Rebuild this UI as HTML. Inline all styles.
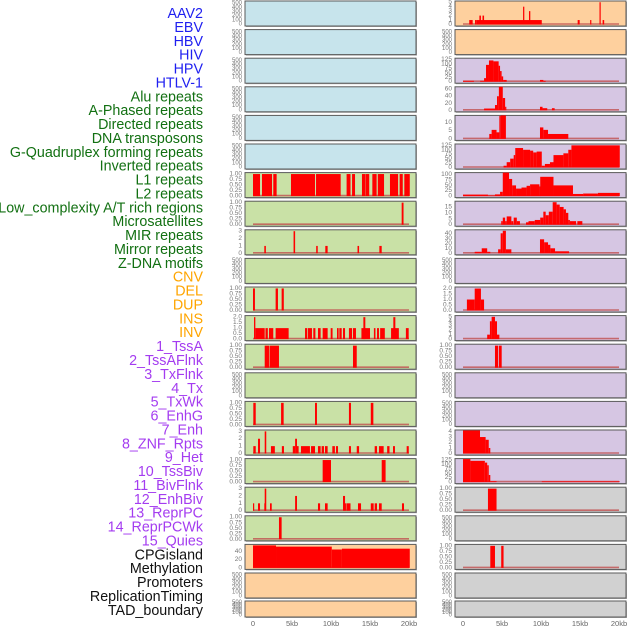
<!DOCTYPE html>
<html><head><meta charset="utf-8">
<style>
html,body{margin:0;padding:0;background:#fff;}
svg{display:block;}
text{font-family:"Liberation Sans",sans-serif;}
</style></head>
<body>
<svg id="chart" width="630" height="630" viewBox="0 0 630 630" xmlns="http://www.w3.org/2000/svg">
<g id="labels"></g>
<g id="panels"></g>
<g id="xaxis"></g>
</svg>
<script>
// ---- data ----
const trackNames = ["AAV2","EBV","HBV","HIV","HPV","HTLV-1","Alu repeats","A-Phased repeats","Directed repeats","DNA transposons","G-Quadruplex forming repeats","Inverted repeats","L1 repeats","L2 repeats","Low_complexity A/T rich regions","Microsatellites","MIR repeats","Mirror repeats","Z-DNA motifs","CNV","DEL","DUP","INS","INV","1_TssA","2_TssAFlnk","3_TxFlnk","4_Tx","5_TxWk","6_EnhG","7_Enh","8_ZNF_Rpts","9_Het","10_TssBiv","11_BivFlnk","12_EnhBiv","13_ReprPC","14_ReprPCWk","15_Quies","CPGisland","Methylation","Promoters","ReplicationTiming","TAD_boundary"];
const labelGroups = ["virus","virus","virus","virus","virus","virus","repeat","repeat","repeat","repeat","repeat","repeat","repeat","repeat","repeat","repeat","repeat","repeat","repeat","sv","sv","sv","sv","sv","state","state","state","state","state","state","state","state","state","state","state","state","state","state","state","other","other","other","other","other"];
const xTickValues = [0,5,10,15,20];
const xTickLabels = ["0","5kb","10kb","15kb","20kb"];
const ticksEmpty = [0,100,200,300,400,500];
const ticksFrac = [0,0.25,0.5,0.75,1];
const ticks0to3 = [0,1,2,3];
const ticks0to2 = [0,0.5,1,1.5,2];
const ticks0to5 = [0,1,2,3,4,5];
const ticks0to4 = [0,1,2,3,4];
const ticks125 = [0,25,50,75,100,125];
const ticks100 = [0,25,50,75,100];
const ticks60 = [0,20,40,60];
const ticks10 = [0,5,10];
const ticks15 = [0,5,10,15];
const ticks40 = [0,10,20,30,40];
const ticksCNV = [0,20,40];
// segments: [startKb, endKb, value]
const segAlu = [[0,0.9,1],[1.15,2.44,1],[2.6,3.03,1],[4.87,7.95,1],[8.08,11.24,1],[12.0,12.5,1],[12.7,13.08,1],[13.97,14.4,1],[14.44,14.9,1],[15.3,15.85,1],[16.0,16.8,1],[17.56,18.6,1],[18.8,19.2,1],[19.4,20.1,1]];
const segAPhased = [[19.06,19.3,1]];
const segDirected = [[1.45,1.65,1],[5.2,5.4,3],[8.1,8.3,1],[9.27,9.57,1],[13.4,13.6,1],[16.2,16.5,1]];
const segGQuad = [[0,0.25,1],[2.9,3.2,1],[3.67,3.95,1]];
const segInverted = [[0.13,0.3,2],[0.3,1.5,1],[1.6,1.9,1],[2.05,2.6,1],[2.9,4.57,1],[6.67,6.96,1],[7.05,7.56,1],[7.73,8.0,1],[8.33,8.67,1],[8.93,9.57,1],[9.96,10.2,1],[10.77,10.98,1],[11.07,11.37,1],[11.54,11.8,1],[12.3,12.7,1],[12.82,13.2,1],[13.9,15.0,1],[14.15,14.4,2],[15.5,15.7,1],[15.9,16.15,1],[16.3,16.9,1],[17.7,18.7,1],[17.99,18.25,2],[19.6,19.96,1]];
const segL1 = [[1.5,2.05,1],[2.12,3.33,1],[12.82,13.3,1]];
const segLowComp = [[0.04,0.35,1],[3.6,3.93,1],[7.95,8.2,1],[12.3,12.56,1],[15.1,15.43,1]];
const segMicro = [[0.04,0.35,1],[0.64,0.9,2],[1.5,1.7,3],[2.3,2.8,1],[3.7,3.97,1],[5.1,5.4,1],[5.4,5.64,2],[5.64,5.85,1],[6.15,7.3,1],[7.44,7.95,1],[8.33,8.67,1],[8.8,9.1,1],[9.23,9.57,1],[10.17,10.5,1],[10.64,10.9,1],[12.3,12.56,1],[13.3,13.6,1],[15.6,15.9,1],[16.15,16.75,1],[17.2,17.5,1],[17.95,18.2,1],[19.7,19.97,1]];
const segMIR = [[8.93,10.0,1],[16.5,17.0,1]];
const segMirror = [[0,0.12,1],[0.64,0.9,1],[1.45,1.5,1],[1.5,1.7,3],[2.18,2.4,1],[5.4,5.64,2],[8.33,8.6,1],[9.23,9.57,1],[11.54,11.8,2],[11.8,12.0,1],[12.05,12.5,1],[13.46,13.85,1],[15.1,15.47,1],[15.6,15.9,1],[16.15,16.5,1],[19.1,19.36,1]];
const segZDNA = [[3.33,3.67,1]];
const segCNV = [[0,2.95,55],[2.95,10.1,52],[10.1,11.4,45],[11.4,20.1,47]];
const segINS = [[0.8,1.24,1],[1.54,1.75,1],[1.75,10.1,1],[2.1,2.3,2],[2.5,2.7,2],[7.7,7.86,4],[8.46,8.63,3],[14.7,14.96,1],[16.3,16.45,1],[17.5,17.65,5],[17.9,18.1,1]];
const segTssA = [[0,1.4,5],[2.2,2.7,5],[2.7,2.95,20],[2.95,3.33,95],[3.33,3.9,120],[3.9,4.57,115],[4.57,4.75,90],[4.75,4.95,60],[4.95,5.15,30],[5.15,5.6,10],[9.87,10.3,10],[10.3,10.6,5]];
const segTssAFlnk = [[2.7,4.1,5],[4.1,4.36,15],[4.36,4.6,40],[4.6,5.1,70],[5.1,5.4,35],[5.4,5.5,10],[9.87,10.2,10],[10.2,10.8,6],[11.4,11.75,6]];
const segTxFlnk = [[3.37,3.67,3],[3.67,4.3,5.5],[4.3,4.66,4],[4.66,4.83,14],[4.83,5.5,15],[9.87,10.3,7],[10.3,10.9,5.5],[10.9,13.5,3]];
const segTx = [[5.2,5.6,10],[5.6,6.05,30],[6.05,6.5,50],[6.5,6.7,70],[6.7,7.7,110],[7.7,8.6,100],[8.6,9.0,95],[9.0,9.44,85],[9.44,10.1,90],[10.1,10.5,10],[10.5,11.15,20],[11.15,11.6,30],[11.6,12.87,70],[12.87,13.5,80],[13.5,13.9,100],[13.9,20.1,125]];
const segTxWk = [[0,3.2,7],[3.2,4.1,3],[4.1,4.75,8],[4.75,5.1,20],[5.1,5.9,115],[5.9,6.3,80],[6.3,6.8,50],[6.8,7.5,35],[7.5,8.15,40],[8.15,8.6,48],[8.6,9.8,55],[9.8,9.9,45],[9.9,11.6,90],[11.6,14.1,50],[14.1,15.4,10],[15.4,17.3,12],[17.3,20.1,15]];
const segEnhG = [[4.9,5.1,3],[5.1,5.4,6],[5.4,5.6,3],[5.6,6.2,7],[6.2,6.45,3],[6.5,6.9,6],[6.9,7.3,3],[8.08,8.4,2],[8.4,9.2,3],[9.2,9.9,4],[9.9,10.3,6],[10.3,10.6,11],[10.6,11.0,8],[11.0,11.5,11],[11.5,12.0,19],[12.0,12.4,17],[12.4,12.9,15],[12.9,13.2,13],[13.2,13.5,10],[13.5,13.7,4],[13.7,14.5,3],[14.66,15.3,3]];
const segEnh = [[1.5,2.4,3],[2.4,3.1,10],[3.1,3.5,3],[4.5,4.83,8],[4.83,5.1,40],[5.1,5.5,45],[5.5,6.2,8],[9.87,10.4,28],[10.4,10.9,22],[10.9,11.2,17],[11.2,11.8,10],[11.8,13.6,4]];
const segHet = [[0.5,1.5,1],[1.5,2.3,2],[2.3,2.7,1]];
const segTssBiv = [[3.1,3.45,1],[3.45,3.67,4],[3.67,4.1,5],[4.1,4.36,4],[4.36,4.66,1]];
const segBivFlnk = [[4.1,4.5,1],[4.6,4.96,1]];
const segReprPCWk = [[0,2.18,4.2],[2.18,2.9,3],[2.9,3.3,2.5],[3.3,3.5,1]];
const segQuies = [[0,0.95,130],[0.95,2.8,120],[2.8,3.1,110],[3.1,3.3,95],[3.3,3.5,40],[3.5,4.3,5],[10.1,20.1,4]];
const segCPG = [[3.2,4.3,1]];
const segPromoters = [[3.5,4.1,1],[4.9,5.2,1]];

// track definitions: [segments, ticks, ymax, panelColor]
const BLUE="#c7e4ec", GREEN="#c9e1a6", ORANGE="#fed09e", PURPLE="#d6c6e3", GRAY="#d1d1d1";
const trackDefs = [
 [null,ticksEmpty,540,BLUE],[null,ticksEmpty,540,BLUE],[null,ticksEmpty,540,BLUE],[null,ticksEmpty,540,BLUE],[null,ticksEmpty,540,BLUE],[null,ticksEmpty,540,BLUE],
 [segAlu,ticksFrac,1.02,GREEN],[segAPhased,ticksFrac,1.02,GREEN],[segDirected,ticks0to3,3.05,GREEN],[null,ticksEmpty,540,GREEN],
 [segGQuad,ticksFrac,1.02,GREEN],[segInverted,ticks0to2,2.05,GREEN],[segL1,ticksFrac,1.02,GREEN],[null,ticksEmpty,540,GREEN],
 [segLowComp,ticksFrac,1.02,GREEN],[segMicro,ticks0to3,3.05,GREEN],[segMIR,ticksFrac,1.02,GREEN],[segMirror,ticks0to3,3.05,GREEN],
 [segZDNA,ticksFrac,1.02,GREEN],[segCNV,ticksCNV,55,ORANGE],[null,ticksEmpty,540,ORANGE],[null,ticksEmpty,540,ORANGE],
 [segINS,ticks0to5,5.05,ORANGE],[null,ticksEmpty,540,ORANGE],
 [segTssA,ticks125,127,PURPLE],[segTssAFlnk,ticks60,64,PURPLE],[segTxFlnk,ticks10,13.7,PURPLE],[segTx,ticks125,127,PURPLE],
 [segTxWk,ticks100,105,PURPLE],[segEnhG,ticks15,19,PURPLE],[segEnh,ticks40,45,PURPLE],[null,ticksEmpty,540,PURPLE],
 [segHet,ticks0to2,2.05,PURPLE],[segTssBiv,ticks0to5,5.05,PURPLE],[segBivFlnk,ticksFrac,1.02,PURPLE],[null,ticksEmpty,540,PURPLE],
 [null,ticksEmpty,540,PURPLE],[segReprPCWk,ticks0to4,4.1,PURPLE],[segQuies,ticks125,127,PURPLE],
 [segCPG,ticksFrac,1.02,GRAY],[null,ticksEmpty,540,GRAY],[segPromoters,ticksFrac,1.02,GRAY],[null,ticksEmpty,540,GRAY],[null,ticksEmpty,540,GRAY]
];

// ---- drawing ----
const NS="http://www.w3.org/2000/svg";
function mk(tag, attrs, parent){const e=document.createElementNS(NS,tag);for(const k in attrs)e.setAttribute(k,attrs[k]);parent.appendChild(e);return e;}
const groupColor={virus:"#1f1ff0",repeat:"#127012",sv:"#ffa500",state:"#a43cf0",other:"#111111"};
const labelsG=document.getElementById('labels');
trackNames.forEach((n,i)=>{
  const t=mk('text',{x:203,y:14+i*13.88,'text-anchor':'end','dominant-baseline':'central','font-size':'14.3',fill:groupColor[labelGroups[i]]},labelsG);
  
  
  t.textContent=n;
});
const colX=[245,455], zeroX=[253,463], PXKB=7.8, PW=171;
function xScale(col,kb){return zeroX[col]+kb*PXKB;}
const panelsG=document.getElementById('panels');
trackDefs.forEach((d,i)=>{
  const col=i<22?0:1, row=i%22;
  const top=row<21?1+row*28.6:601;
  const h=row<21?25:16;
  const g=mk('g',{},panelsG);
  
  
  const px=colX[col];
  mk('rect',{x:px+1,y:top+1,width:PW,height:h,fill:'#a9a9a9'},g);
  mk('rect',{x:px,y:top,width:PW,height:h,fill:d[3],stroke:'#5a5a5a','stroke-width':1},g);
  const y0=top+h-1.5, yTop=top+1;
  const yS=v=>y0-(v/d[2])*(y0-yTop);
  const clipId='c'+i;
  const cp=mk('clipPath',{id:clipId},g);
  mk('rect',{x:px,y:top,width:PW,height:h},cp);
  const tickSize=d[1]===ticksEmpty?6:6.5;
  d[1].forEach(tv=>{
    const lab=mk('text',{x:px-3,y:yS(tv),'text-anchor':'end','dominant-baseline':'central','font-size':tickSize,fill:'#777'},g);
    
    
    lab.textContent=(d[1]===ticksFrac)?tv.toFixed(2):(d[1]===ticks0to2?tv.toFixed(1):String(tv));
  });
  if(d[0]){
    const dg=mk('g',{'clip-path':'url(#'+clipId+')'},g);
    mk('line',{x1:xScale(col,0),x2:xScale(col,20),y1:y0-0.5,y2:y0-0.5,stroke:'#c05050','stroke-width':1.6,'stroke-opacity':0.8},dg);
    d[0].forEach(s=>{
      const x1=xScale(col,s[0]), x2=xScale(col,s[1]);
      const r=mk('rect',{x:x1,y:yS(s[2]),width:Math.max(1.2,x2-x1),height:Math.max(0,y0-yS(s[2])),fill:'#ff0000'},dg);
      
      
    });
  }
});
const xg=document.getElementById('xaxis');
[0,1].forEach(col=>{
  xTickValues.forEach((v,k)=>{
    const t=mk('text',{x:xScale(col,v),y:626,'text-anchor':'middle','font-size':'7.5',fill:'#666'},xg);
    
    
    t.textContent=xTickLabels[k];
  });
});
</script>
</body></html>
